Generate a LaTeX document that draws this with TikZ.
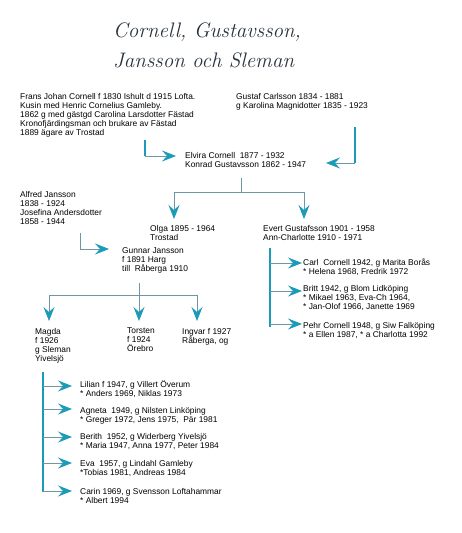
\documentclass[tikz,border=0pt]{standalone}
\usepackage{fontspec}
\setmainfont{Liberation Sans}
\newfontfamily\titlefont{Latin Modern Roman}
\usetikzlibrary{arrows.meta}
\definecolor{arrc}{RGB}{28,155,185}
\definecolor{linec}{RGB}{110,150,165}
\definecolor{titc}{RGB}{40,50,60}
\tikzset{
  txt/.style={anchor=north west,inner sep=0pt,align=left,font=\fontsize{8.4}{9}\selectfont},
  thk/.style={draw=arrc,line width=1.6pt},
  thn/.style={draw=linec,line width=0.9pt},
  arr/.style={thn,-{Stealth[length=14pt,width=11pt,inset=5pt,color=arrc]}},
}
\begin{document}
\begin{tikzpicture}[x=1pt,y=-1pt]
\useasboundingbox (0,0) rectangle (462,533);
% title
\node[anchor=base west,inner sep=0pt,text=titc,font=\titlefont\itshape\fontsize{21}{24}\selectfont] (t1) at (113,37) {Cornell, Gustavsson,};
\node[anchor=base west,inner sep=0pt,text=titc,font=\titlefont\itshape\fontsize{21}{24}\selectfont] (t2) at (113,67) {Jansson och Sleman};
% text blocks
\node[txt] (frans) at (20,93) {Frans Johan Cornell f 1830 Ishult d 1915 Lofta.\\Kusin med Henric Cornelius Gamleby.\\1862 g med gästgd Carolina Larsdotter Fästad\\Kronofjärdingsman och brukare av Fästad\\1889 ägare av Trostad};
\node[txt] (gustaf) at (236,93) {Gustaf Carlsson 1834 - 1881\\g Karolina Magnidotter 1835 - 1923};
\node[txt] (elvira) at (185,152) {Elvira Cornell\ \ 1877 - 1932\\Konrad Gustavsson 1862 - 1947};
\node[txt] (alfred) at (20,191) {Alfred Jansson\\1838 - 1924\\Josefina Andersdotter\\1858 - 1944};
\node[txt] (olga) at (150,225) {Olga 1895 - 1964\\Trostad};
\node[txt] (evert) at (263,225) {Evert Gustafsson 1901 - 1958\\Ann-Charlotte 1910 - 1971};
\node[txt] (gunnar) at (122,247) {Gunnar Jansson\\f 1891 Harg\\till\ \ Råberga 1910};
\node[txt] (magda) at (35,328) {Magda\\f 1926\\g Sleman\\Yivelsjö};
\node[txt] (torsten) at (127,328) {Torsten\\f 1924\\Örebro};
\node[txt] (ingvar) at (182,328) {Ingvar f 1927\\Råberga, og};
\node[txt] (carl) at (303,259) {Carl\ \ Cornell 1942, g Marita Borås\\* Helena 1968, Fredrik 1972};
\node[txt] (britt) at (303,285) {Britt 1942, g Blom Lidköping\\* Mikael 1963, Eva-Ch 1964,\\* Jan-Olof 1966, Janette 1969};
\node[txt] (pehr) at (303,322) {Pehr Cornell 1948, g Siw Falköping\\* a Ellen 1987, * a Charlotta 1992};
\node[txt] (lilian) at (80,380) {Lilian f 1947, g Villert Överum\\* Anders 1969, Niklas 1973};
\node[txt] (agneta) at (80,407) {Agneta\ \ 1949, g Nilsten Linköping\\* Greger 1972, Jens 1975,\ \ Pär 1981};
\node[txt] (berith) at (80,433) {Berith\ \ 1952, g Widerberg Yivelsjö\\* Maria 1947, Anna 1977, Peter 1984};
\node[txt] (eva) at (80,460) {Eva\ \ 1957, g Lindahl Gamleby\\*Tobias 1981, Andreas 1984};
\node[txt] (carin) at (80,488) {Carin 1969, g Svensson Loftahammar\\* Albert 1994};
% connectors: parents -> Elvira
\coordinate (a1s) at (145,140); \coordinate (a1c) at (145,156); \coordinate (a1e) at (176,156);
\draw[thk] (a1s) -- (a1c); \draw[arr] (a1c) -- (a1e);
\coordinate (a2s) at (355,127); \coordinate (a2c) at (355,163); \coordinate (a2e) at (326,163);
\draw[thk] (a2s) -- (a2c); \draw[arr] (a2c) -- (a2e);
% Elvira -> Olga, Evert
\coordinate (f1s) at (241,178); \coordinate (f1c) at (241,192);
\coordinate (f1l) at (174,192); \coordinate (f1r) at (304,192);
\coordinate (f1le) at (174,219); \coordinate (f1re) at (304,219);
\draw[thn] (f1s) -- (f1c); \draw[thn] (f1l) -- (f1r);
\draw[arr] (f1l) -- (f1le); \draw[arr] (f1r) -- (f1re);
% Alfred -> Gunnar
\coordinate (a3s) at (80,233); \coordinate (a3c) at (80,249); \coordinate (a3e) at (109,249);
\draw[thn] (a3s) -- (a3c); \draw[arr] (a3c) -- (a3e);
% Gunnar -> children
\coordinate (f2s) at (139,283); \coordinate (f2c) at (139,295);
\coordinate (f2l) at (49,295); \coordinate (f2r) at (197,295);
\coordinate (f2le) at (49,321); \coordinate (f2me) at (139,321); \coordinate (f2re) at (197,321);
\draw[thn] (f2s) -- (f2c); \draw[thn] (f2l) -- (f2r);
\draw[arr] (f2l) -- (f2le); \draw[arr] (f2c) -- (f2me); \draw[arr] (f2r) -- (f2re);
% Evert -> children
\coordinate (e0) at (270,248); \coordinate (e4) at (270,327);
\coordinate (e1) at (270,263); \coordinate (e2) at (270,291); \coordinate (e3) at (270,324);
\coordinate (e1e) at (302,263); \coordinate (e2e) at (302,291); \coordinate (e3e) at (302,324);
\draw[thk] (e0) -- (e4);
\draw[arr] (e1) -- (e1e); \draw[arr] (e2) -- (e2e); \draw[arr] (e3) -- (e3e);
% Magda -> children
\coordinate (m0) at (43,372); \coordinate (m6) at (43,492);
\coordinate (m1) at (43,386); \coordinate (m2) at (43,409); \coordinate (m3) at (43,437); \coordinate (m4) at (43,463); \coordinate (m5) at (43,491);
\coordinate (m1e) at (72,386); \coordinate (m2e) at (72,409); \coordinate (m3e) at (72,437); \coordinate (m4e) at (72,463); \coordinate (m5e) at (72,491);
\draw[thk] (m0) -- (m6);
\draw[arr] (m1) -- (m1e); \draw[arr] (m2) -- (m2e); \draw[arr] (m3) -- (m3e); \draw[arr] (m4) -- (m4e); \draw[arr] (m5) -- (m5e);
\end{tikzpicture}
\end{document}
